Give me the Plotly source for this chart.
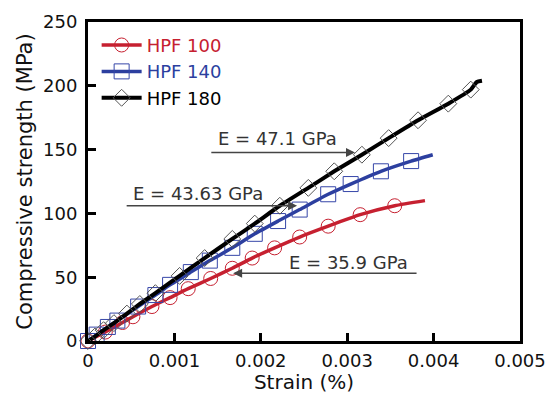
import plotly.graph_objects as go

# ---- data ----
series_names = ["HPF 100", "HPF 140", "HPF 180"]

# HPF 100 (red, circles)
red_strain = [0, 0.0002, 0.0004, 0.00052, 0.00074, 0.00095, 0.00116, 0.00142, 0.00167,
              0.0019, 0.00216, 0.00245, 0.00278, 0.00315, 0.00355]
red_stress = [0, 7, 14.5, 19, 27, 34, 41, 49, 57, 65, 73, 81.5, 90, 99, 106]
red_end_strain = [0.0039]
red_end_stress = [110]

# HPF 140 (blue, squares)
blue_strain = [0, 0.0001, 0.00023, 0.00034, 0.00058, 0.00078, 0.00095, 0.00119, 0.00141,
               0.00167, 0.00193, 0.0022, 0.00245, 0.00278, 0.00304, 0.00339, 0.00374]
blue_stress = [0, 5, 11, 16, 27, 36, 44, 54, 63, 73, 84, 94, 103, 115, 123, 133, 141]
blue_end_strain = [0.00399]
blue_end_stress = [146]

# HPF 180 (black, diamonds)
black_strain = [0, 0.00008, 0.00018, 0.0003, 0.00045, 0.0006, 0.00078, 0.00106, 0.00135,
                0.00167, 0.00193, 0.00222, 0.00255, 0.00285, 0.00317, 0.00348, 0.00382,
                0.00417, 0.00443]
black_stress = [0, 3.5, 8.5, 14, 21.5, 29, 37.5, 51, 65, 80, 92, 106, 120, 133, 146, 159, 173, 186, 197]
black_end_strain = [0.0045, 0.00456]
black_end_stress = [203, 204]

x_tick_vals = [0, 0.001, 0.002, 0.003, 0.004, 0.005]
x_tick_text = ["0", "0.001", "0.002", "0.003", "0.004", "0.005"]
y_tick_vals = [0, 50, 100, 150, 200, 250]

# annotations: text, text position, arrow tip, arrow tail
ann_texts = ["E = 47.1 GPa", "E = 43.63 GPa", "E = 35.9 GPa"]
ann_text_x = [0.00219, 0.00127, 0.00302]
ann_text_y = [158.5, 115.5, 61.5]
ann_tip_x = [0.00309, 0.00242, 0.00168]
ann_tip_y = [147.7, 106, 53]
ann_tail_x = [0.00141, 0.00043, 0.00382]
ann_tail_y = [147.7, 106, 53]

RED = "#C62030"
BLUE = "#2C3F9F"
BLACK = "#000000"
FONT = "DejaVu Sans"

fig = go.Figure()

specs = [
    (series_names[0], red_strain, red_stress, red_end_strain, red_end_stress, RED, "circle-open", RED, 14),
    (series_names[1], blue_strain, blue_stress, blue_end_strain, blue_end_stress, BLUE, "square-open", "#3646A8", 15),
    (series_names[2], black_strain, black_stress, black_end_strain, black_end_stress, BLACK, "diamond-open", "#555555", 13),
]

for name, xs, ys, xe, ye, col, sym, mcol, msz in specs:
    lw = 4 if col == BLACK else 3.5
    fig.add_trace(go.Scatter(
        x=xs + xe, y=ys + ye, mode="lines",
        line=dict(color=col, width=lw, shape="spline", smoothing=0.5),
        showlegend=False, cliponaxis=False, hoverinfo="skip"))
    fig.add_trace(go.Scatter(
        x=xs, y=ys, mode="markers",
        marker=dict(symbol=sym, size=msz, color=mcol, line=dict(color=mcol, width=1)),
        showlegend=False, cliponaxis=False, hoverinfo="skip"))
    fig.add_trace(go.Scatter(
        x=[None], y=[None], mode="lines+markers",
        name=f"<span style='color:{col}'>{name}</span>",
        line=dict(color=col, width=lw),
        marker=dict(symbol=sym, size=msz, color=mcol, line=dict(color=mcol, width=1))))

for t, tx, ty, hx, hy, sx, sy in zip(ann_texts, ann_text_x, ann_text_y, ann_tip_x, ann_tip_y, ann_tail_x, ann_tail_y):
    fig.add_annotation(x=tx, y=ty, text=t, showarrow=False,
                       font=dict(family=FONT, size=18, color="#333333"))
    fig.add_annotation(x=hx, y=hy, ax=sx, ay=sy, axref="x", ayref="y", text="",
                       showarrow=True, arrowhead=2, arrowsize=1.2, arrowwidth=1.5,
                       arrowcolor="#444444")

axis_common = dict(
    showline=True, linewidth=3, linecolor="black", mirror=True,
    ticks="inside", ticklen=8, tickwidth=3, tickcolor="black",
    showgrid=False, zeroline=False,
    tickfont=dict(family=FONT, size=18, color="#111111"),
)

fig.update_layout(
    width=546, height=394,
    margin=dict(l=88, r=26, t=22, b=53),
    paper_bgcolor="white", plot_bgcolor="white",
    font=dict(family=FONT, color="#111111"),
    xaxis=dict(range=[0, 0.005], tickvals=x_tick_vals, ticktext=x_tick_text,
               title=dict(text="Strain (%)", font=dict(family=FONT, size=20)),
               ticklabelstandoff=1, automargin=False, **axis_common),
    yaxis=dict(range=[0, 250], tickvals=y_tick_vals,
               title=dict(text="Compressive strength (MPa)", font=dict(family=FONT, size=21), standoff=5),
               ticklabelstandoff=4, automargin=True, **axis_common),
    legend=dict(x=0.02, y=0.985, xanchor="left", yanchor="top",
                bgcolor="rgba(0,0,0,0)", font=dict(family=FONT, size=18),
                tracegroupgap=0, itemwidth=40),
    showlegend=True,
)

fig.write_html("out.html")
